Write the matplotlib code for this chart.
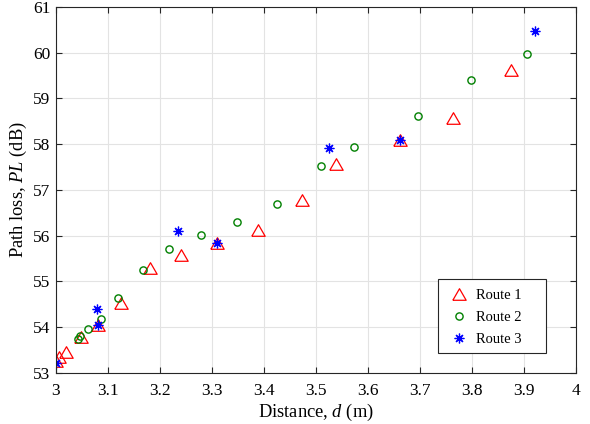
import matplotlib
matplotlib.use('Agg')
import matplotlib.pyplot as plt
from matplotlib.patches import Rectangle

plt.rcParams['font.family'] = ['Liberation Serif', 'DejaVu Serif']
plt.rcParams['mathtext.fontset'] = 'custom'
plt.rcParams['mathtext.it'] = 'Liberation Serif:italic'
plt.rcParams['mathtext.rm'] = 'Liberation Serif'

# Route data (distance in m, path loss in dB)
r1_d = [3.000, 3.005, 3.020, 3.048, 3.081, 3.125, 3.180, 3.240, 3.310, 3.389, 3.473, 3.538, 3.662, 3.763, 3.874]
r1_pl = [53.27, 53.35, 53.45, 53.78, 54.04, 54.52, 55.29, 55.57, 55.85, 56.12, 56.78, 57.57, 58.10, 58.58, 59.62]

r2_d = [3.042, 3.047, 3.061, 3.086, 3.120, 3.167, 3.217, 3.279, 3.348, 3.425, 3.509, 3.573, 3.696, 3.797, 3.906]
r2_pl = [53.74, 53.81, 53.97, 54.19, 54.63, 55.26, 55.72, 56.02, 56.31, 56.69, 57.52, 57.94, 58.62, 59.40, 59.97]

r3_d = [3.000, 3.079, 3.081, 3.235, 3.310, 3.525, 3.661, 3.920]
r3_pl = [53.22, 54.40, 54.05, 56.11, 55.84, 57.91, 58.09, 60.48]

xtick_labels = ['3', '3.1', '3.2', '3.3', '3.4', '3.5', '3.6', '3.7', '3.8', '3.9', '4']

# MATLAB-like markers
tri = [(-1, -0.866), (1, -0.866), (0, 0.866), (-1, -0.866)]
asterisk = (8, 2, 0)

fig = plt.figure(figsize=(5.9, 4.24), dpi=100)
ax = fig.add_axes([0.0949, 0.1203, 0.882, 0.8632])

ax.plot(r1_d, r1_pl, linestyle='none', marker=tri, color='red', mfc='none', ms=9.6, mew=0.9, label='Route 1')
ax.plot(r2_d, r2_pl, linestyle='none', marker='o', color='green', mfc='none', ms=5.2, mew=1.0, label='Route 2')
ax.plot(r3_d, r3_pl, linestyle='none', marker=asterisk, color='blue', ms=7, mew=0.9, label='Route 3')

ax.set_xlim(3, 4)
ax.set_ylim(53, 61)
ax.set_xticks([3 + 0.1 * i for i in range(11)])
ax.set_xticklabels(xtick_labels)
ax.set_yticks(range(53, 62))
ax.grid(True, color='#e3e3e3', linewidth=0.8)
ax.set_axisbelow(True)
ax.tick_params(direction='in', top=True, right=True, labelsize=12.5, length=4, color='#262626')
ax.tick_params(axis='x', pad=7)
ax.tick_params(axis='y', pad=4)
for s in ax.spines.values():
    s.set_color('#262626')
    s.set_linewidth(0.8)

ax.set_xlabel('Distance, $\\mathit{d}$ (m)', fontsize=13.3, labelpad=2)
ax.set_ylabel('Path loss, $\\mathit{PL}$ (dB)', fontsize=13.3, labelpad=3)

# legend box drawn separately so it can be wider than its contents
ax.add_patch(Rectangle((0.734, 0.0546), 0.2074, 0.2022, transform=ax.transAxes,
                       facecolor='white', edgecolor='#262626', linewidth=0.8, zorder=5))
leg = ax.legend(loc='center left', bbox_to_anchor=(0.734, 0.152), fontsize=10.5, frameon=False,
                borderaxespad=0, borderpad=0.68, labelspacing=0.6, handlelength=1.5, handletextpad=0.45)
leg.set_zorder(6)

fig.savefig('out.png', dpi=100)
